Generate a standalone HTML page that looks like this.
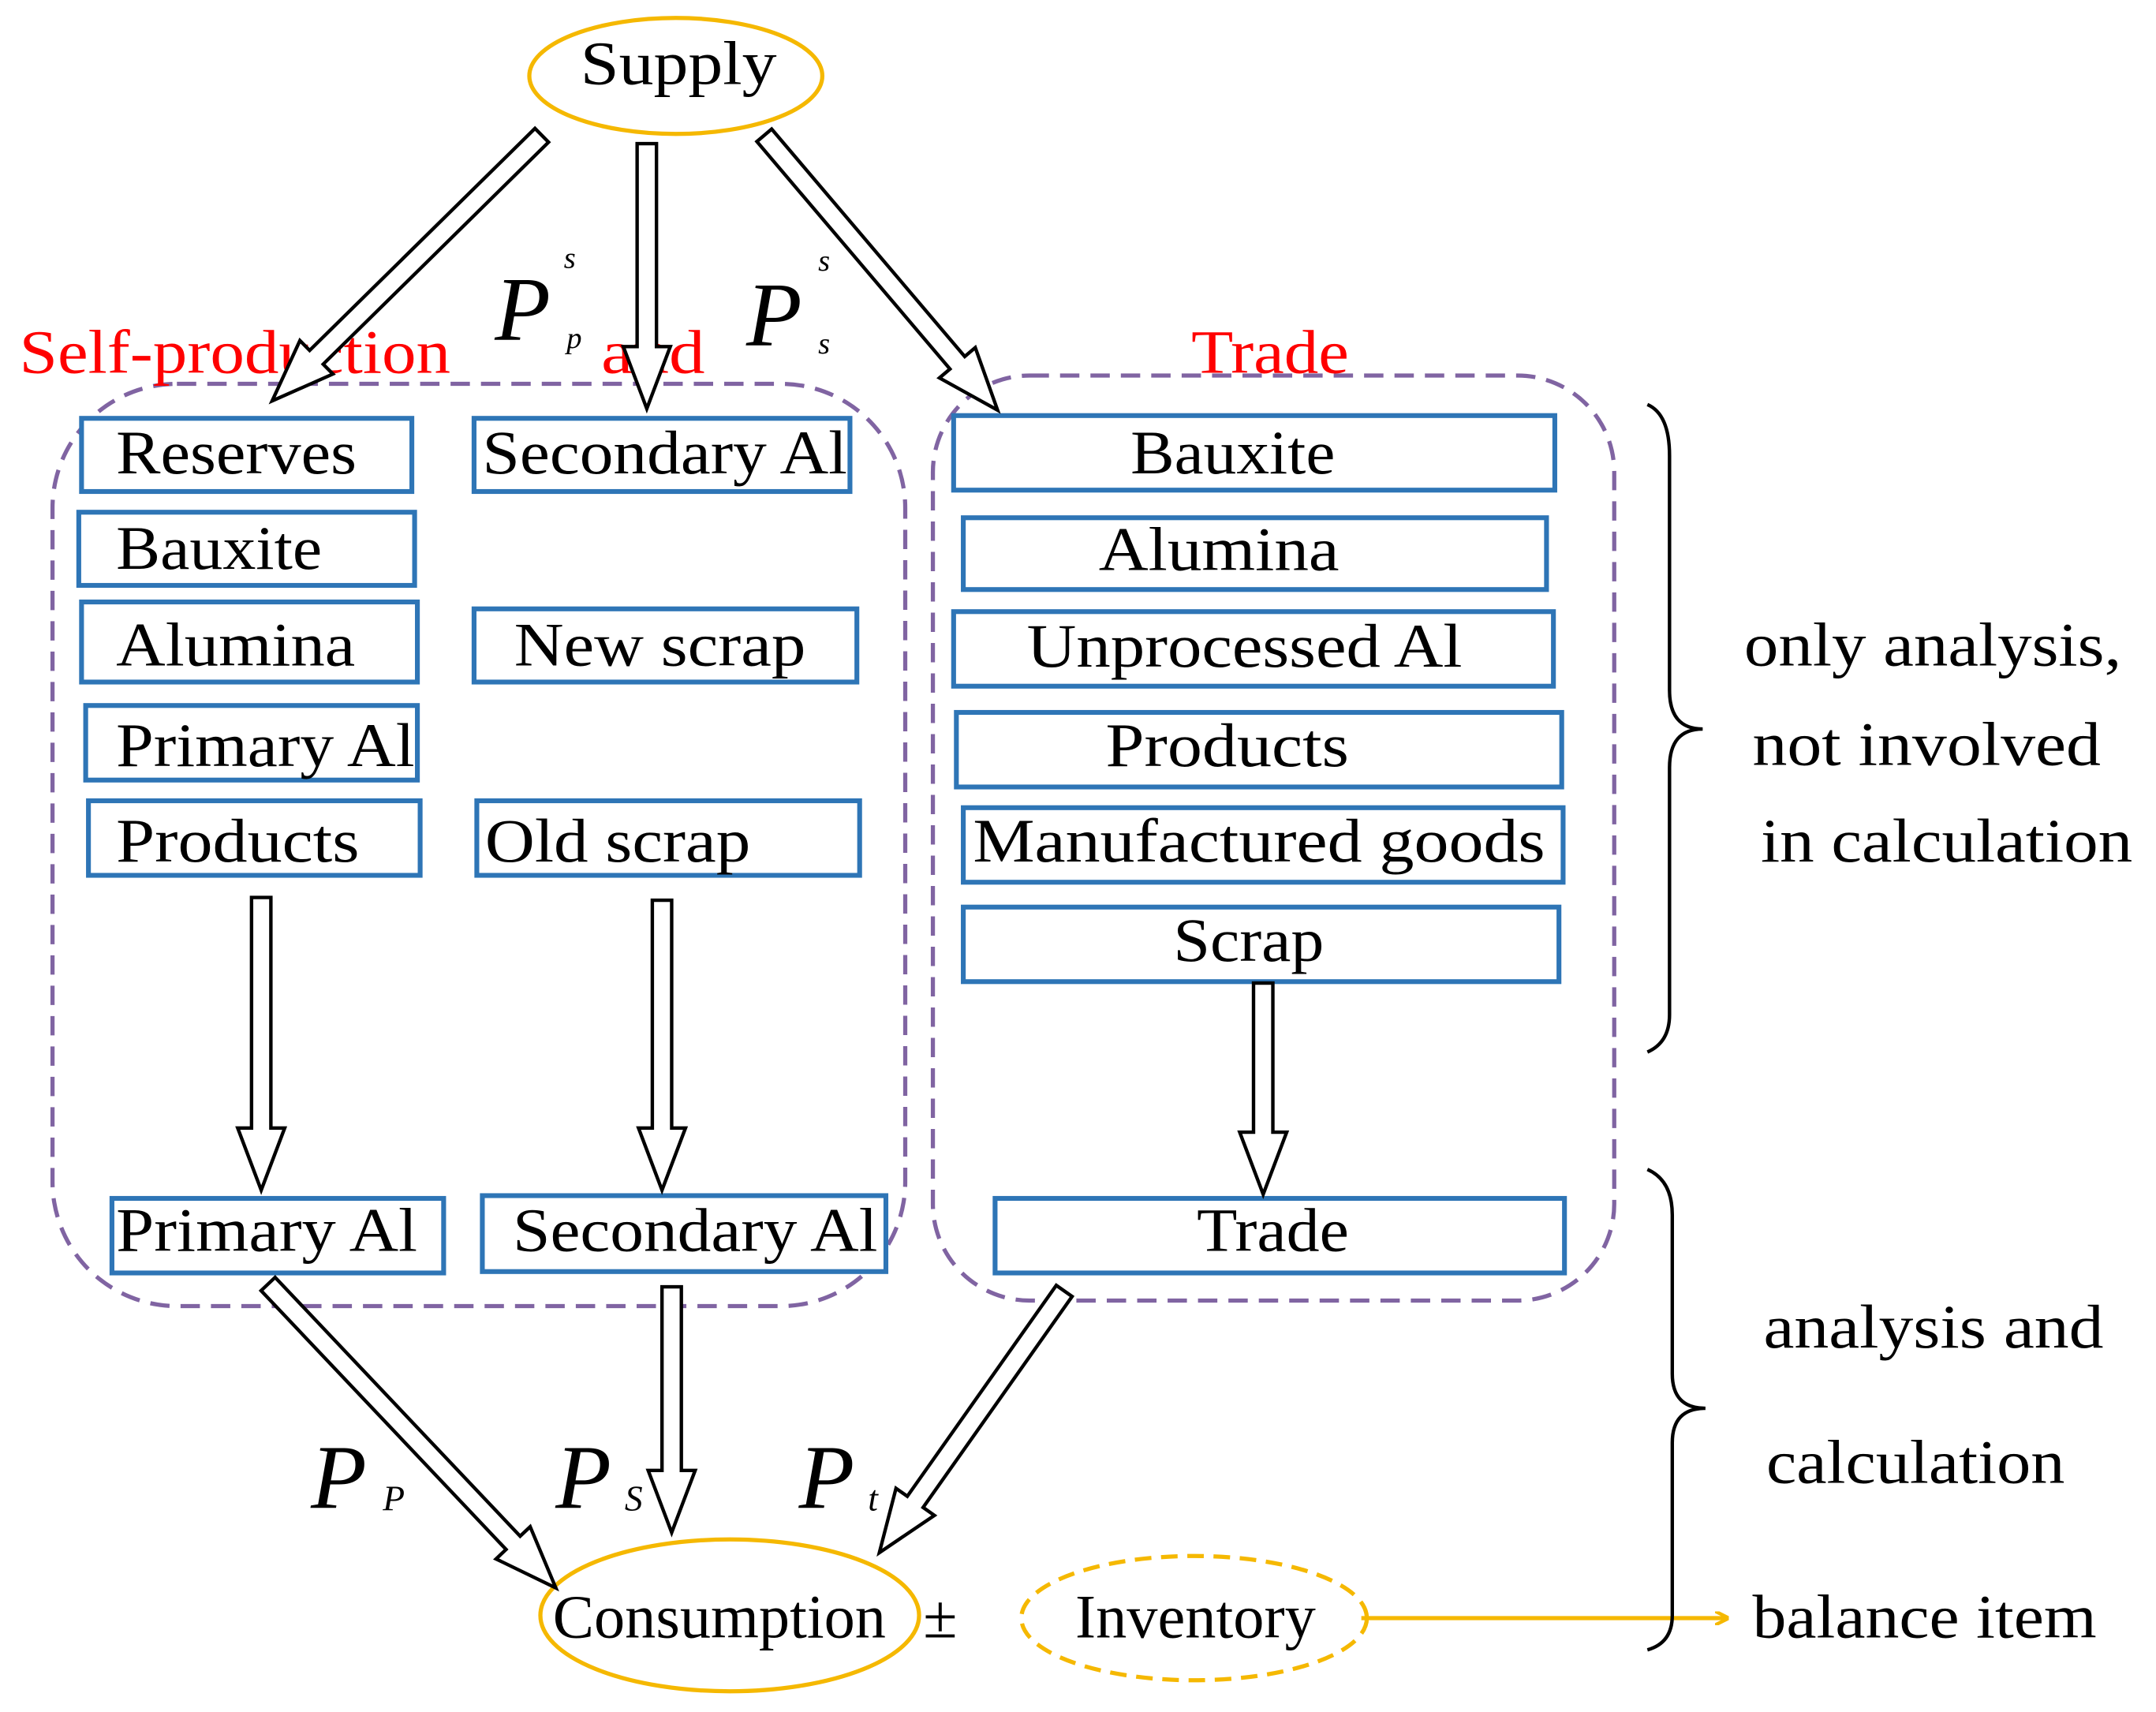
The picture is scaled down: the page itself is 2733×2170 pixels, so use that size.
<!DOCTYPE html>
<html><head><meta charset="utf-8"><style>
html,body{margin:0;padding:0;background:#fff;}
svg{display:block;}
text{font-family:"Liberation Serif",serif;}
</style></head><body>
<svg width="2733" height="2170" viewBox="0 0 1560 1240" preserveAspectRatio="none" xmlns="http://www.w3.org/2000/svg">
<defs>
<marker id="oh" markerWidth="10" markerHeight="10" refX="9" refY="5" orient="auto" markerUnits="userSpaceOnUse"><path d="M0,0 L10,5 L0,10" fill="none" stroke="#f5b800" stroke-width="2.5"/></marker>
</defs>
<rect x="38" y="278" width="617" height="668" rx="90" fill="none" stroke="#8064a2" stroke-width="3" stroke-dasharray="14,8"/>
<rect x="675" y="272" width="493" height="670" rx="70" fill="none" stroke="#8064a2" stroke-width="3" stroke-dasharray="14,8"/>
<g fill="#fff" stroke="#2e75b6" stroke-width="3.5">
<rect x="59" y="303" width="239" height="53"/>
<rect x="343" y="303" width="272" height="53"/>
<rect x="57" y="371" width="243" height="53"/>
<rect x="59" y="436" width="243" height="58"/>
<rect x="343" y="441" width="277" height="53"/>
<rect x="62" y="511" width="240" height="54"/>
<rect x="64" y="580" width="240" height="54"/>
<rect x="345" y="580" width="277" height="54"/>
<rect x="690" y="301" width="435" height="54"/>
<rect x="697" y="375" width="422" height="52"/>
<rect x="690" y="443" width="434" height="54"/>
<rect x="692" y="516" width="438" height="54"/>
<rect x="697" y="585" width="434" height="54"/>
<rect x="697" y="657" width="431" height="54"/>
<rect x="720" y="868" width="412" height="54"/>
<rect x="81" y="868" width="240" height="54"/>
<rect x="349" y="866" width="292" height="55"/>
</g>
<g font-size="45" fill="#000" lengthAdjust="spacingAndGlyphs">
<text x="84" y="343" textLength="174" lengthAdjust="spacingAndGlyphs">Reserves</text>
<text x="349" y="343" textLength="264" lengthAdjust="spacingAndGlyphs">Secondary Al</text>
<text x="84" y="412" textLength="149" lengthAdjust="spacingAndGlyphs">Bauxite</text>
<text x="84" y="482" textLength="173" lengthAdjust="spacingAndGlyphs">Alumina</text>
<text x="372" y="482" textLength="211" lengthAdjust="spacingAndGlyphs">New scrap</text>
<text x="84" y="555" textLength="216" lengthAdjust="spacingAndGlyphs">Primary Al</text>
<text x="84" y="624" textLength="176" lengthAdjust="spacingAndGlyphs">Products</text>
<text x="351" y="624" textLength="192" lengthAdjust="spacingAndGlyphs">Old scrap</text>
<text x="818" y="343" textLength="148" lengthAdjust="spacingAndGlyphs">Bauxite</text>
<text x="795" y="413" textLength="174" lengthAdjust="spacingAndGlyphs">Alumina</text>
<text x="743" y="483" textLength="315" lengthAdjust="spacingAndGlyphs">Unprocessed Al</text>
<text x="800" y="555" textLength="176" lengthAdjust="spacingAndGlyphs">Products</text>
<text x="704" y="624" textLength="414" lengthAdjust="spacingAndGlyphs">Manufactured goods</text>
<text x="849" y="696" textLength="109" lengthAdjust="spacingAndGlyphs">Scrap</text>
<text x="866" y="906" textLength="110" lengthAdjust="spacingAndGlyphs">Trade</text>
<text x="84" y="906" textLength="218" lengthAdjust="spacingAndGlyphs">Primary Al</text>
<text x="371" y="906" textLength="264" lengthAdjust="spacingAndGlyphs">Secondary Al</text>
<text x="1262" y="482" textLength="273" lengthAdjust="spacingAndGlyphs">only analysis,</text>
<text x="1268" y="554" textLength="252" lengthAdjust="spacingAndGlyphs">not involved</text>
<text x="1274" y="624" textLength="269" lengthAdjust="spacingAndGlyphs">in calculation</text>
<text x="1276" y="976" textLength="246" lengthAdjust="spacingAndGlyphs">analysis and</text>
<text x="1278" y="1074" textLength="216" lengthAdjust="spacingAndGlyphs">calculation</text>
<text x="1268" y="1186" textLength="249" lengthAdjust="spacingAndGlyphs">balance item</text>
<text x="420" y="61" textLength="142" lengthAdjust="spacingAndGlyphs">Supply</text>
<text x="400" y="1186" textLength="241" lengthAdjust="spacingAndGlyphs">Consumption</text>
<text x="778" y="1186" textLength="174" lengthAdjust="spacingAndGlyphs">Inventory</text>
<text x="668" y="1186">±</text>
</g>
<text x="14" y="270" font-size="45" fill="#ff0000" textLength="312" lengthAdjust="spacingAndGlyphs">Self-production</text>
<text x="435" y="270" font-size="45" fill="#ff0000" textLength="75" lengthAdjust="spacingAndGlyphs">and</text>
<text x="862" y="270" font-size="45" fill="#ff0000" textLength="114" lengthAdjust="spacingAndGlyphs">Trade</text>
<g font-style="italic" fill="#000">
<text x="358" y="246" font-size="66">P</text>
<text x="408" y="194" font-size="22">s</text>
<text x="410" y="252" font-size="22">p</text>
<text x="540" y="250" font-size="66">P</text>
<text x="592" y="196" font-size="22">s</text>
<text x="592" y="256" font-size="22">s</text>
<text x="225" y="1092" font-size="66">P</text>
<text x="277" y="1094" font-size="26">P</text>
<text x="402" y="1092" font-size="66">P</text>
<text x="452" y="1094" font-size="26">S</text>
<text x="578" y="1092" font-size="66">P</text>
<text x="628" y="1094" font-size="26">t</text>
</g>
<ellipse cx="489" cy="55" rx="106" ry="42" fill="none" stroke="#f5b800" stroke-width="3"/>
<ellipse cx="528" cy="1170" rx="137" ry="55" fill="none" stroke="#f5b800" stroke-width="3"/>
<ellipse cx="864" cy="1172" rx="125" ry="45" fill="none" stroke="#f5b800" stroke-width="3" stroke-dasharray="12,7"/>
<line x1="985" y1="1172" x2="1250" y2="1172" stroke="#f5b800" stroke-width="3" marker-end="url(#oh)"/>
<g fill="#fff" stroke="#000" stroke-width="2.5" stroke-linejoin="miter">
<polygon transform="translate(392,98) rotate(135.4)" points="0,-7 229,-7 229,-17 274,0 229,17 229,7 0,7"/>
<polygon transform="translate(468,104) rotate(90)" points="0,-7 147,-7 147,-17 192,0 147,17 147,7 0,7"/>
<polygon transform="translate(553,98) rotate(49.7)" points="0,-7 216,-7 216,-17 261,0 216,17 216,7 0,7"/>
<polygon transform="translate(189,650) rotate(90)" points="0,-7 167,-7 167,-17 212,0 167,17 167,7 0,7"/>
<polygon transform="translate(479,652) rotate(90)" points="0,-7 165,-7 165,-17 210,0 165,17 165,7 0,7"/>
<polygon transform="translate(914,712) rotate(90)" points="0,-7 108,-7 108,-17 153,0 108,17 108,7 0,7"/>
<polygon transform="translate(194,930) rotate(46.6)" points="0,-7 258,-7 258,-17 303,0 258,17 258,7 0,7"/>
<polygon transform="translate(486,932) rotate(90)" points="0,-7 133,-7 133,-17 178,0 133,17 133,7 0,7"/>
<polygon transform="translate(770,935) rotate(125.2)" points="0,-7 187,-7 187,-17 232,0 187,17 187,7 0,7"/>
</g>
<g fill="none" stroke="#000" stroke-width="2.5">
<path d="M1192,293 Q1208,300 1208,330 L1208,500 Q1208,528 1232,528 Q1208,528 1208,556 L1208,735 Q1208,755 1192,762"/>
<path d="M1192,847 Q1210,855 1210,880 L1210,995 Q1210,1020 1234,1020 Q1210,1020 1210,1045 L1210,1170 Q1210,1190 1192,1195"/>
</g>
</svg>
</body></html>
